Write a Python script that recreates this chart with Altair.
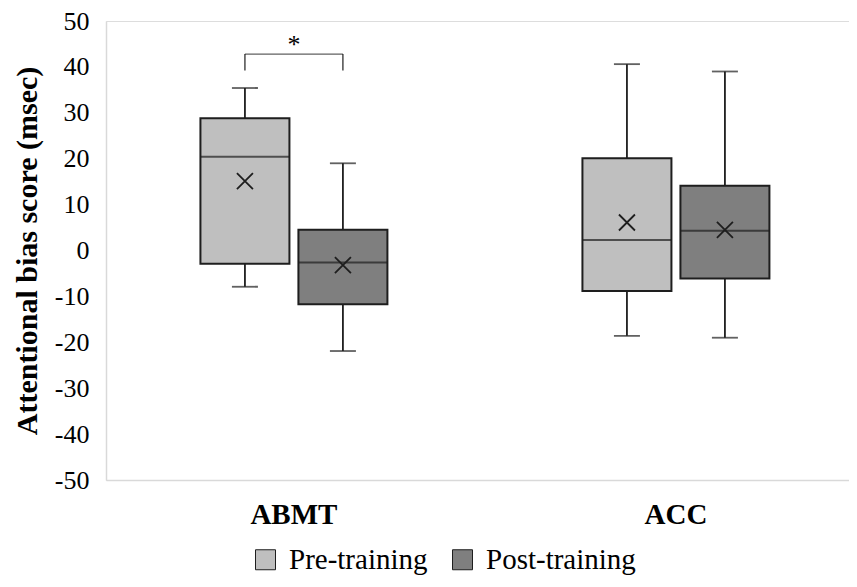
import altair as alt
import pandas as pd

groups = ["ABMT", "ABMT", "ACC", "ACC"]
phases = ["Pre-training", "Post-training", "Pre-training", "Post-training"]
whisker_low = [-7.9, -21.9, -18.6, -19.0]
q1 = [-2.9, -11.7, -8.8, -6.1]
median = [20.4, -2.6, 2.3, 4.3]
q3 = [28.8, 4.5, 20.1, 14.1]
whisker_high = [35.4, 19.0, 40.6, 39.0]
mean = [15.1, -3.2, 6.1, 4.5]

bracket_group = ["ABMT"]
bracket_top = [42.8]
bracket_bottom = [39.2]
star_y = [45.9]
star_text = ["*"]

y_ticks = list(range(-50, 51, 10))
phase_order = ["Pre-training", "Post-training"]
phase_colors = ["#bfbfbf", "#7f7f7f"]
FONT = "Liberation Serif"
STROKE = "#1e1e1e"

df = pd.DataFrame({
    "group": groups, "phase": phases, "low": whisker_low, "q1": q1,
    "median": median, "q3": q3, "high": whisker_high, "mean": mean,
})
br = pd.DataFrame({
    "group": bracket_group * 2, "phase": phase_order,
    "top": bracket_top * 2, "bottom": bracket_bottom * 2,
})
br_top = pd.DataFrame({"group": bracket_group, "top": bracket_top,
                       "star": star_y, "text": star_text})

x_enc = alt.X("group:N", sort=["ABMT", "ACC"],
              scale=alt.Scale(paddingInner=0.487, paddingOuter=0.216, align=0.545),
              axis=alt.Axis(title=None, labelAngle=0, labelFont=FONT, labelFontSize=29,
                            labelFontWeight="bold", labelColor="black", labelPadding=20,
                            ticks=False, domainColor="#d9d9d9", domainWidth=1.5,
                            grid=False))
xo_enc = alt.XOffset("phase:N", sort=phase_order, scale=alt.Scale(paddingInner=0, paddingOuter=0))
y_scale = alt.Scale(domain=[-50, 50], nice=False)
y_axis = alt.Axis(values=y_ticks, labelExpr="toString(datum.value)",
                  title="Attentional bias score (msec)", titleFont=FONT,
                  titleFontSize=30, titleFontWeight="bold", titleColor="black",
                  titlePadding=12, labelFont=FONT, labelFontSize=26, labelColor="black",
                  labelPadding=17, ticks=False, grid=False, domainColor="#d9d9d9",
                  domainWidth=1.5)

base = alt.Chart(df)

whisk = base.mark_rule(color=STROKE, strokeWidth=1.8).encode(
    x=x_enc, xOffset=xo_enc,
    y=alt.Y("low:Q", scale=y_scale, axis=y_axis), y2="high:Q")

cap_lo = base.mark_tick(color=STROKE, thickness=1.8, size=26).encode(
    x=x_enc, xOffset=xo_enc, y=alt.Y("low:Q", scale=y_scale))
cap_hi = base.mark_tick(color=STROKE, thickness=1.8, size=26).encode(
    x=x_enc, xOffset=xo_enc, y=alt.Y("high:Q", scale=y_scale))

box = base.mark_bar(size=89, stroke=STROKE, strokeWidth=2).encode(
    x=x_enc, xOffset=xo_enc,
    y=alt.Y("q1:Q", scale=y_scale), y2="q3:Q",
    color=alt.Color("phase:N", sort=phase_order,
                    scale=alt.Scale(domain=phase_order, range=phase_colors),
                    legend=alt.Legend(title=None, orient="none", direction="horizontal",
                                      legendX=145, legendY=524, symbolType="square",
                                      symbolSize=400, symbolStrokeColor=STROKE,
                                      symbolStrokeWidth=1, labelFont=FONT,
                                      labelFontSize=29, labelColor="black",
                                      labelOffset=9, columnPadding=20)))

med = base.mark_tick(color=STROKE, thickness=2, size=89).encode(
    x=x_enc, xOffset=xo_enc, y=alt.Y("median:Q", scale=y_scale))

mn = base.mark_point(shape="M-1,-1L1,1M-1,1L1,-1", filled=False, color=STROKE,
                     strokeWidth=1.8, size=256, opacity=1).encode(
    x=x_enc, xOffset=xo_enc, y=alt.Y("mean:Q", scale=y_scale))

legs = alt.Chart(br).mark_rule(color=STROKE, strokeWidth=1.2).encode(
    x=x_enc, xOffset=xo_enc, y=alt.Y("top:Q", scale=y_scale), y2="bottom:Q")
topline = alt.Chart(br_top).mark_tick(color=STROKE, thickness=1.2, size=98).encode(
    x=x_enc, y=alt.Y("top:Q", scale=y_scale))
star = alt.Chart(br_top).mark_text(font=FONT, fontSize=26, color="black", dy=5).encode(
    x=x_enc, y=alt.Y("star:Q", scale=y_scale), text="text:N")

chart = alt.layer(whisk, cap_lo, cap_hi, box, med, mn, legs, topline, star).properties(
    width=743, height=459,
    autosize=alt.AutoSizeParams(type="none"),
    padding={"left": 98, "top": 13, "right": 0, "bottom": 96},
).configure_view(stroke=None).configure(background="white")

chart.save("out.html", embed_options={"renderer": "svg", "actions": False})
